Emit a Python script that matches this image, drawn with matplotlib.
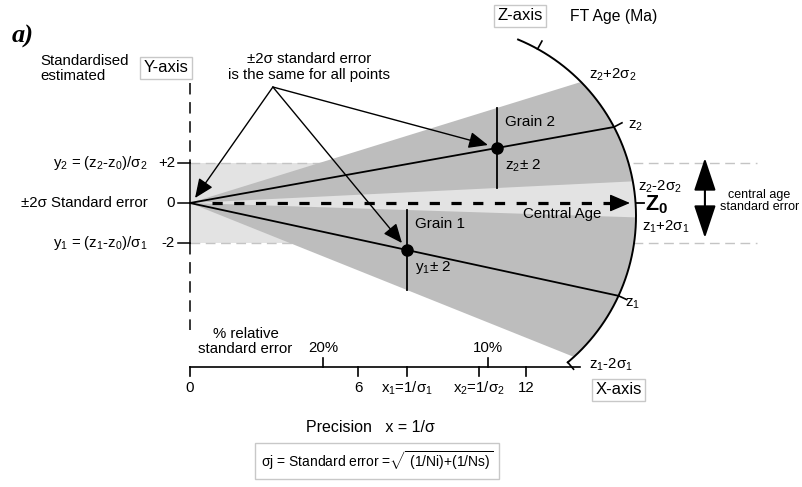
import numpy as np
import matplotlib
matplotlib.use('Agg')
import matplotlib.pyplot as plt
from matplotlib.patches import Polygon

plt.rcParams['font.family'] = ['Liberation Sans', 'DejaVu Sans']
plt.rcParams['mathtext.fontset'] = 'custom'
plt.rcParams['mathtext.rm'] = 'Liberation Sans'
plt.rcParams['mathtext.it'] = 'Liberation Sans:italic'
plt.rcParams['mathtext.bf'] = 'Liberation Sans:bold'
plt.rcParams['mathtext.default'] = 'regular'

# grains: precision x = 1/sigma and standardised estimate y
grain_names = ['Grain 1', 'Grain 2']
grain_x = [7.75, 10.96]
grain_y = [-2.35, 2.75]
grain_err = ['y$_1$± 2', 'z$_2$± 2']
err = 2  # +/- 2 standard errors

# z labels where the lines meet the age arc (upper, centre, lower)
z_labels = [['z$_1$+2σ$_1$', 'z$_1$', 'z$_1$-2σ$_1$'],
            ['z$_2$+2σ$_2$', 'z$_2$', 'z$_2$-2σ$_2$']]

# y axis
ytick_vals = [2, 0, -2]
ytick_labels = ['+2', '0', '-2']
ytick_names = ['y$_2$ = (z$_2$-z$_0$)/σ$_2$', '±2σ Standard error',
               'y$_1$ = (z$_1$-z$_0$)/σ$_1$']

# precision axis
xtick_vals = [0, 6, 7.75, 10.32, 12]
xtick_labels = ['0', '6', 'x$_1$=1/σ$_1$', 'x$_2$=1/σ$_2$', '12']
pct_vals = [4.75, 10.64]
pct_labels = ['20%', '10%']

# pixels per unit in x and y
PX, PY = 28.0, 20.0

fig = plt.figure(figsize=(8.02, 4.87), dpi=100)
ax = fig.add_axes([0, 0, 1, 1])
ax.set_xlim(-190 / PX, 612 / PX)
ax.set_ylim(-284 / PY, 203 / PY)
ax.axis('off')

# age arc (a circle on screen)
R = 191.0
cx, cy = 9.107, -0.65
rx, ry = R / PX, R / PY
th_top, th_end = np.radians(67.5), np.radians(-50)


def arc_pt(th, extra=0.0):
    return cx + (R + extra) / PX * np.cos(th), cy + (R + extra) / PY * np.sin(th)


def hit(s):
    # ray y = s*x from the origin meeting the arc
    a = 1 / rx**2 + s**2 / ry**2
    b = cx / rx**2 + s * cy / ry**2
    c = cx**2 / rx**2 + cy**2 / ry**2 - 1
    t = (b + np.sqrt(b * b - a * c)) / a
    return t, s * t


def angle(p):
    return np.arctan2((p[1] - cy) / ry, (p[0] - cx) / rx)


def sector(p_hi, p_lo, start):
    th = np.linspace(angle(p_hi), angle(p_lo), 80)
    xs, ys = arc_pt(th)
    return [start] + list(zip(xs, ys))


light = '#e3e3e3'
dark = '#bdbdbd'
fs = 10.8

# central age +/-2 band
top_pt = (cx + rx * np.sqrt(1 - ((2 - cy) / ry) ** 2), 2)
bot_pt = (cx + rx * np.sqrt(1 - ((-2 - cy) / ry) ** 2), -2)
band = sector(top_pt, bot_pt, (0, 2)) + [(0, -2)]
ax.add_patch(Polygon(band, closed=True, facecolor=light, edgecolor='none', zorder=1))

for yv in [2, -2]:
    ax.plot([0, 20.25], [yv, yv], color='#c4c4c4', lw=1, ls=(0, (7, 4)), zorder=1.5)

# grain wedges, lines, error bars
for i in range(2):
    gx, gy = grain_x[i], grain_y[i]
    p_hi = hit((gy + err) / gx)
    p_mid = hit(gy / gx)
    p_lo = hit((gy - err) / gx)
    ax.add_patch(Polygon(sector(p_hi, p_lo, (0, 0)), closed=True,
                         facecolor=dark, edgecolor='none', zorder=2))
    ax.plot([0, p_mid[0]], [0, p_mid[1]], color='black', lw=1.3, zorder=3)
    ax.plot([gx, gx], [gy - err, gy + err], color='black', lw=1.3, zorder=3)
    ax.plot(gx, gy, 'o', color='black', ms=8, zorder=4)
    ax.text(gx + 0.3, gy + 1.3, grain_names[i], fontsize=11, va='center', zorder=5)
    ax.text(gx + 0.3, gy - 0.9, grain_err[i], fontsize=11, va='center', zorder=5)
    # tick on the arc and the z labels
    tmid = angle(p_mid)
    x0, y0 = arc_pt(tmid)
    x1, y1 = arc_pt(tmid, 9)
    ax.plot([x0, x1], [y0, y1], color='black', lw=1.2)
    offs = [[(4, -7), (5, -6), (11, -6)], [(6, 5), (10, 1), (4, -4)]][i]
    for p, lab, o in zip([p_hi, p_mid, p_lo], z_labels[i], offs):
        ax.annotate(lab, xy=p, xytext=o, textcoords='offset points',
                    fontsize=fs, ha='left', va='center')

# arc and its ticks
th = np.linspace(th_top, th_end, 200)
ax.plot(*arc_pt(th), color='black', lw=1.4, zorder=3)
for t in [np.radians(61), th_end]:
    x0, y0 = arc_pt(t)
    x1, y1 = arc_pt(t, 9)
    ax.plot([x0, x1], [y0, y1], color='black', lw=1.2)

# central age line
z0 = hit(0.0)
ax.plot([0.8, z0[0] - 0.5], [0, 0], color='black', lw=2.3, ls=(0, (3.2, 3.6)), zorder=3)
ax.annotate('', xy=(z0[0] - 0.2, 0), xytext=(z0[0] - 0.9, 0),
            arrowprops=dict(arrowstyle='-|>,head_length=0.7,head_width=0.3',
                            mutation_scale=18, color='black', lw=1, shrinkA=0, shrinkB=0),
            zorder=4)
ax.plot([z0[0], z0[0] + 0.3], [0, 0], color='black', lw=1.3)
ax.text(z0[0] + 0.35, -0.1, 'Z$_{0}$', fontsize=15.5, fontweight='bold', va='center')
ax.text(13.29, -0.55, 'Central Age', fontsize=fs, ha='center', va='center', zorder=5)

# y axis
ax.plot([0, 0], [6.0, 2], color='black', lw=1.1, ls=(0, (7.5, 5)))
ax.plot([0, 0], [-2, -6.35], color='black', lw=1.1, ls=(0, (7.5, 5)))
ax.plot([0, 0], [-2, 2], color='black', lw=1.1, zorder=3)
for v, lab, name in zip(ytick_vals, ytick_labels, ytick_names):
    ax.plot([-0.43, 0], [v, v], color='black', lw=1.1)
    ax.text(-0.54, v, lab, fontsize=fs, ha='right', va='center')
    ax.text(-1.5, v, name, fontsize=fs, ha='right', va='center')

# x axis
xa = -8.2
ax.plot([0, 13.93], [xa, xa], color='black', lw=1.2)
for v, lab in zip(xtick_vals, xtick_labels):
    ax.plot([v, v], [xa, xa - 0.45], color='black', lw=1.2)
    ax.text(v, xa - 1.05, lab, fontsize=fs, ha='center', va='center')
for v, lab in zip(pct_vals, pct_labels):
    ax.plot([v, v], [xa, xa + 0.45], color='black', lw=1.2)
    ax.text(v, xa + 0.95, lab, fontsize=fs, ha='center', va='center')
ax.text(1.98, -6.93, '% relative\nstandard error', fontsize=fs, ha='center', va='center',
        linespacing=1.1)

# annotation arrows
apex = (2.96, 5.8)
for tip in [(0.18, 0.25), (7.57, -2.0), (10.64, 2.9)]:
    ax.annotate('', xy=tip, xytext=apex,
                arrowprops=dict(arrowstyle='-|>,head_length=0.65,head_width=0.28',
                                mutation_scale=18, color='black', lw=1.0,
                                shrinkA=0, shrinkB=0), zorder=6)
ax.text(4.25, 6.8, '±2σ standard error\nis the same for all points', fontsize=fs,
        ha='center', va='center', linespacing=1.1)

# central age standard error
ax.annotate('', xy=(18.39, 2.25), xytext=(18.39, -1.75),
            arrowprops=dict(arrowstyle='<|-|>,head_length=1.2,head_width=0.4',
                            mutation_scale=17, color='black', lw=1.5,
                            shrinkA=0, shrinkB=0))
ax.text(21.75, 0.1, 'central age\nstandard error', fontsize=9, ha='right',
        multialignment='center', va='center', linespacing=1.1)

# titles and boxes
box = dict(boxstyle='square,pad=0.2', facecolor='white', edgecolor='#c8c8c8', lw=1)
ax.text(-5.96, 8.35, 'a)', fontsize=19, fontweight='bold', fontstyle='italic',
        family='Liberation Serif', ha='center', va='center')
ax.text(-5.36, 7.45, 'Standardised\nestimated', fontsize=fs, ha='left', va='top',
        linespacing=1.1)
ax.text(-0.86, 6.75, 'Y-axis', fontsize=12, ha='center', va='center', bbox=box)
ax.text(11.79, 9.35, 'Z-axis', fontsize=12, ha='center', va='center', bbox=box)
ax.text(13.57, 9.35, 'FT Age (Ma)', fontsize=11.3, ha='left', va='center')
ax.text(15.32, -9.35, 'X-axis', fontsize=12, ha='center', va='center', bbox=box)
ax.text(6.43, -11.25, 'Precision   x = 1/σ', fontsize=11.5, ha='center', va='center')
ax.text(6.68, -12.9, r'σj = Standard error =$\sqrt{\ (1/Ni){+}(1/Ns)}$', fontsize=10,
        ha='center', va='center',
        bbox=dict(boxstyle='square,pad=0.45', facecolor='white', edgecolor='#c8c8c8', lw=1))

fig.savefig('out.png', dpi=100)
